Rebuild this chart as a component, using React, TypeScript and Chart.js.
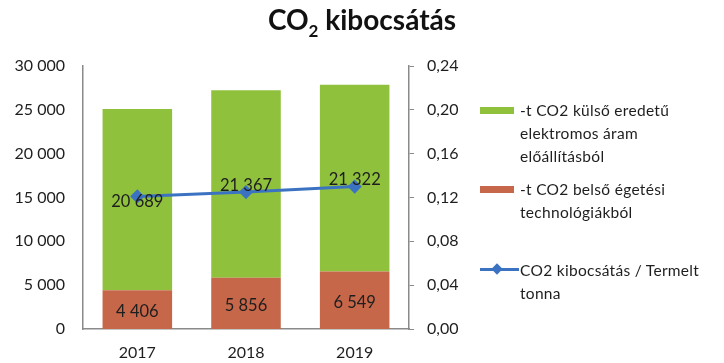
import React, { useEffect, useRef } from "react";
import { Chart, registerables } from "chart.js";

Chart.register(...registerables);

const categories = ["2017", "2018", "2019"];
const internalCO2 = [4406, 5856, 6549];
const externalCO2 = [20689, 21367, 21322];
const perTonne = [0.121, 0.125, 0.13];

const seriesNames = [
  "-t CO2 külső eredetű elektromos áram előállításból",
  "-t CO2 belső égetési technológiákból",
  "CO2 kibocsátás / Termelt tonna",
];

const GREEN = "#8fc13c";
const RED = "#c6674a";
const BLUE = "#3b73c2";
const FONT = "Lato, 'Open Sans', sans-serif";

const fmtThousands = (v: number) =>
  String(Math.round(v)).replace(/\B(?=(\d{3})+(?!\d))/g, " ");

const barLabelPlugin = {
  id: "barLabels",
  afterDatasetsDraw(chart: any) {
    const ctx = chart.ctx;
    ctx.save();
    ctx.font = `16.5px ${FONT}`;
    ctx.fillStyle = "#1e1e1e";
    ctx.textAlign = "center";
    ctx.textBaseline = "middle";
    chart.data.datasets.forEach((ds: any, i: number) => {
      if (ds.type === "line") return;
      const meta = chart.getDatasetMeta(i);
      meta.data.forEach((el: any, j: number) => {
        const y = (el.y + el.base) / 2;
        ctx.fillText(fmtThousands(ds.data[j]), el.x, y + 2);
      });
    });
    ctx.restore();
  },
};

export default function App() {
  const ref = useRef<HTMLCanvasElement>(null);

  useEffect(() => {
    if (!ref.current) return;
    const chart = new Chart(ref.current, {
      type: "bar",
      data: {
        labels: categories,
        datasets: [
          {
            type: "line",
            label: seriesNames[2],
            data: perTonne,
            yAxisID: "y1",
            borderColor: BLUE,
            backgroundColor: BLUE,
            borderWidth: 3,
            pointStyle: "rectRot",
            pointRadius: 5,
            pointBackgroundColor: BLUE,
            pointBorderColor: BLUE,
            order: 0,
          } as any,
          {
            label: seriesNames[1],
            data: internalCO2,
            backgroundColor: RED,
            stack: "s",
            yAxisID: "y",
            order: 1,
          },
          {
            label: seriesNames[0],
            data: externalCO2,
            backgroundColor: GREEN,
            stack: "s",
            yAxisID: "y",
            order: 1,
          },
        ],
      },
      options: {
        responsive: false,
        animation: false,
        layout: { padding: { top: 66, right: 264, bottom: 0, left: 0 } },
        datasets: {
          bar: { categoryPercentage: 1, barPercentage: 0.64 },
        },
        plugins: {
          legend: { display: false },
          title: { display: false },
          tooltip: { enabled: false },
        },
        scales: {
          x: {
            stacked: true,
            grid: { display: false, drawTicks: false },
            border: { display: true, color: "#8a8a8a", width: 1.5 },
            ticks: { color: "#1e1e1e", font: { family: FONT, size: 16 }, padding: 14 },
            afterFit: (scale: any) => {
              scale.height = 34;
            },
          },
          y: {
            stacked: true,
            position: "left",
            min: 0,
            max: 30000,
            grid: { display: false, drawTicks: false },
            border: { display: true, color: "#8a8a8a", width: 1.5 },
            ticks: {
              stepSize: 5000,
              color: "#1e1e1e",
              font: { family: FONT, size: 16 },
              padding: 18,
              callback: (v: any) => fmtThousands(Number(v)),
            },
            afterFit: (scale: any) => {
              scale.width = 83;
            },
          },
          y1: {
            position: "right",
            min: 0,
            max: 0.24,
            grid: {
              display: true,
              drawOnChartArea: false,
              drawTicks: true,
              tickLength: 5,
              tickColor: "#8a8a8a",
            },
            border: { display: true, color: "#8a8a8a", width: 1.5 },
            ticks: {
              stepSize: 0.04,
              color: "#1e1e1e",
              font: { family: FONT, size: 16 },
              padding: 13,
              callback: (v: any) => Number(v).toFixed(2).replace(".", ","),
            },
            afterFit: (scale: any) => {
              scale.width = 51;
            },
          },
        },
      },
      plugins: [barLabelPlugin],
    });
    return () => chart.destroy();
  }, []);

  const textStyle: React.CSSProperties = {
    position: "absolute",
    left: 520,
    fontFamily: FONT,
    fontSize: 15.5,
    lineHeight: "23px",
    color: "#1e1e1e",
    width: 204,
    letterSpacing: "0.3px",
    whiteSpace: "nowrap",
  };

  return (
    <div
      style={{
        position: "absolute",
        left: 0,
        top: 0,
        width: 724,
        height: 363,
        background: "#fff",
        overflow: "hidden",
      }}
    >
      <canvas ref={ref} width={724} height={363} style={{ display: "block" }} />
      <div
        style={{
          position: "absolute",
          top: 2,
          left: 0,
          width: 724,
          textAlign: "center",
          fontFamily: FONT,
          fontWeight: 700,
          fontSize: 28,
          color: "#111",
        }}
      >
        CO<sub style={{ fontSize: 17 }}>2</sub> kibocsátás
      </div>
      {/* Legend */}
      <div style={{ position: "absolute", left: 480, top: 107, width: 34, height: 7, background: GREEN }} />
      <div style={{ ...textStyle, top: 99 }}>
        -t CO2 külső eredetű
        <br />
        elektromos áram
        <br />
        előállításból
      </div>
      <div style={{ position: "absolute", left: 480, top: 186, width: 34, height: 7, background: RED }} />
      <div style={{ ...textStyle, top: 178 }}>
        -t CO2 belső égetési
        <br />
        technológiákból
      </div>
      <div style={{ position: "absolute", left: 480, top: 268, width: 39, height: 3, background: BLUE }} />
      <div
        style={{
          position: "absolute",
          left: 493,
          top: 265,
          width: 8,
          height: 8,
          background: BLUE,
          transform: "rotate(45deg)",
        }}
      />
      <div style={{ ...textStyle, top: 259 }}>
        CO2 kibocsátás / Termelt
        <br />
        tonna
      </div>
    </div>
  );
}
